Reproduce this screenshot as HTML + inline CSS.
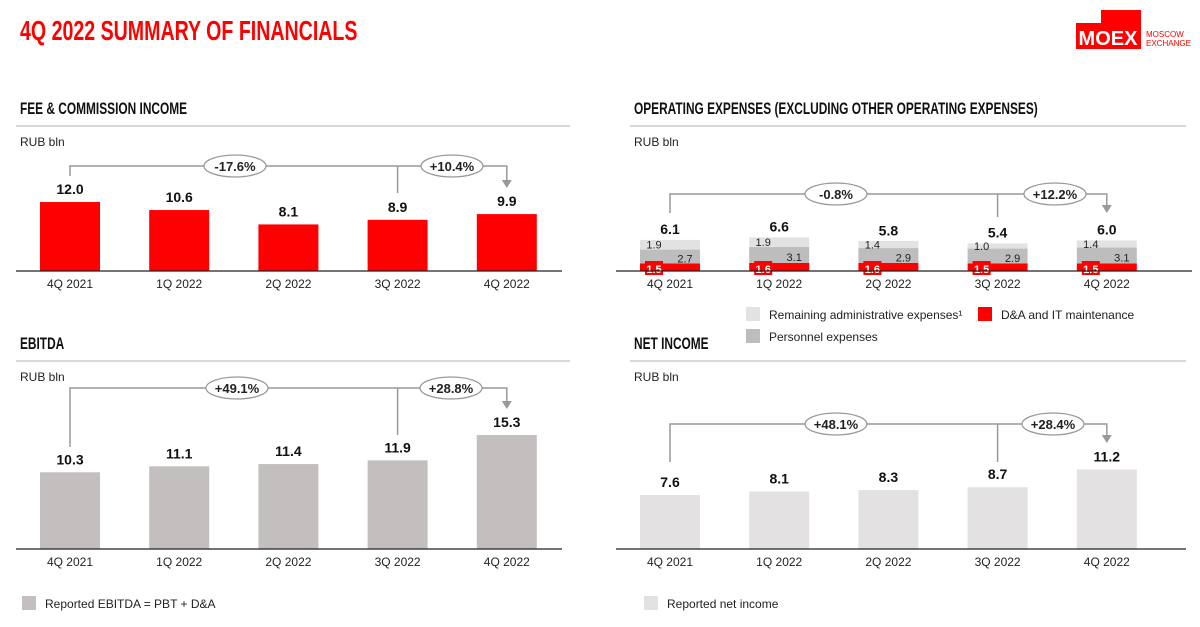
<!DOCTYPE html>
<html><head><meta charset="utf-8"><style>
body{margin:0;background:#fff;width:1200px;height:622px;overflow:hidden;font-family:"Liberation Sans",sans-serif}
svg text{font-family:"Liberation Sans",sans-serif}
</style></head><body>
<svg id="s" width="1200" height="622" xmlns="http://www.w3.org/2000/svg">
<text x="20" y="40" fill="#f00" font-size="28" font-weight="bold" transform="translate(20,0) scale(0.7,1) translate(-20,0)">4Q 2022 SUMMARY OF FINANCIALS</text>
<g>
<rect x="1101" y="10" width="40" height="14" fill="#f00"/>
<rect x="1076" y="23" width="65" height="26" fill="#f00"/>
<text x="1108" y="45" fill="#fff" font-size="20" font-weight="bold" text-anchor="middle">MOEX</text>
<text x="1146" y="37" fill="#f00" font-size="8">MOSCOW</text>
<text x="1146" y="46" fill="#f00" font-size="8">EXCHANGE</text>
</g>
</svg>
<script>
const categories=["4Q 2021","1Q 2022","2Q 2022","3Q 2022","4Q 2022"];
const feeValues=[12.0,10.6,8.1,8.9,9.9];
const ebitdaValues=[10.3,11.1,11.4,11.9,15.3];
const netValues=[7.6,8.1,8.3,8.7,11.2];
const opexTotal=[6.1,6.6,5.8,5.4,6.0];
const opexRemaining=[1.9,1.9,1.4,1.0,1.4];
const opexPersonnel=[2.7,3.1,2.9,2.9,3.1];
const opexDA=[1.5,1.6,1.6,1.5,1.5];
const feeChanges=["-17.6%","+10.4%"];
const opexChanges=["-0.8%","+12.2%"];
const ebitdaChanges=["+49.1%","+28.8%"];
const netChanges=["+48.1%","+28.4%"];

const NS="http://www.w3.org/2000/svg";
const svg=document.getElementById('s');
function mk(tag,attrs,parent){const e=document.createElementNS(NS,tag);for(const k in attrs)e.setAttribute(k,attrs[k]);(parent||svg).appendChild(e);return e;}
function txt(x,y,s,attrs,parent){const t=mk('text',Object.assign({x:x,y:y},attrs),parent);t.textContent=s;return t;}

function panel(name,title,x0,x1,ty){
  const g=mk('g',{});
  
  
  const t=txt(x0+4,ty,title,{'font-size':17,'font-weight':'bold',fill:'#111',transform:`translate(${x0+4},0) scale(0.7,1) translate(${-(x0+4)},0)`},g);
  
  
  mk('line',{x1:x0,x2:x1,y1:ty+12,y2:ty+12,stroke:'#ccc','stroke-width':1.5},g);
  const u=txt(x0+4,ty+32,'RUB bln',{'font-size':12,fill:'#222'},g);
  
  
  return g;
}
function xPos(c0,i){return c0+i*109.2;}
function axis(g,c0,base,ax0,ax1){
  mk('line',{x1:ax0,x2:ax1,y1:base,y2:base,stroke:'#222','stroke-width':1.3},g);
  categories.forEach((c,i)=>{const t=txt(xPos(c0,i),base+17,c,{'font-size':12,fill:'#222','text-anchor':'middle'},g);
    
    });
}
function bracket(g,c0,ly,yl,y3,ya,changes,ox){
  const a=xPos(c0,0),b=xPos(c0,3),c=xPos(c0,4);
  mk('path',{d:`M${a} ${yl}V${ly}H${c}V${ya-6}`,fill:'none',stroke:'#999','stroke-width':1.5},g);
  mk('path',{d:`M${b} ${ly}V${y3}`,fill:'none',stroke:'#999','stroke-width':1.5},g);
  mk('path',{d:`M${c-5} ${ya-8}L${c+5} ${ya-8}L${c} ${ya}Z`,fill:'#999'},g);
  changes.forEach((s,i)=>{
    const e=mk('ellipse',{cx:ox[i],cy:ly,rx:31,ry:11,fill:'#fff',stroke:'#999','stroke-width':1.3},g);
    
    
    txt(ox[i],ly+5,s,{'font-size':13,'font-weight':'bold',fill:'#222','text-anchor':'middle'},g);
  });
}
function simpleBars(g,vals,c0,base,scale,color){
  vals.forEach((v,i)=>{
    const h=v*scale,x=xPos(c0,i);
    const r=mk('rect',{x:x-30,y:base-h,width:60,height:h,fill:color},g);
    
    
    const t=txt(x,base-h-8,v.toFixed(1),{'font-size':14,'font-weight':'bold',fill:'#111','text-anchor':'middle'},g);
    
    
  });
}
function legend(g,x,y,color,label){
  const lg=mk('g',{},g);
  
  
  mk('rect',{x:x,y:y-7,width:14,height:14,fill:color},lg);
  txt(x+23,y+5,label,{'font-size':12,fill:'#222'},lg);
}

// Fee
let g=panel('fee-commission-chart','FEE & COMMISSION INCOME',16,570,114);
simpleBars(g,feeValues,70,271,5.75,'#f00');
axis(g,70,271,16,562);
bracket(g,70,166,176,193,188,feeChanges,[235,452]);

// EBITDA
g=panel('ebitda-chart','EBITDA',16,570,349);
simpleBars(g,ebitdaValues,70,549,7.45,'#c4bfbf');
axis(g,70,549,16,562);
bracket(g,70,388,447,435,409,ebitdaChanges,[237,451]);
legend(g,22,603,'#c4bfbf','Reported EBITDA = PBT + D&A');

// Net income
g=panel('net-income-chart','NET INCOME',630,1186,349);
simpleBars(g,netValues,670,549,7.1,'#e3e1e1');
axis(g,670,549,616,1186);
bracket(g,670,424,462,462,443,netChanges,[836,1053]);
legend(g,644,603,'#e3e1e1','Reported net income');

// Opex
g=panel('operating-expenses-chart','OPERATING EXPENSES (EXCLUDING OTHER OPERATING EXPENSES)',630,1186,114);
const oc=670,ob=271,os=5.1;
categories.forEach((c,i)=>{
  const x=xPos(oc,i);
  const hd=opexDA[i]*os,hp=opexPersonnel[i]*os,hr=opexRemaining[i]*os;
  const r1=mk('rect',{x:x-30,y:ob-hd,width:60,height:hd,fill:'#f00'},g);
  
  
  const r2=mk('rect',{x:x-30,y:ob-hd-hp,width:60,height:hp,fill:'#bdbdbd'},g);
  
  
  const r3=mk('rect',{x:x-30,y:ob-hd-hp-hr,width:60,height:hr,fill:'#e2e2e2'},g);
  
  
  const top=ob-opexTotal[i]*os;
  txt(x,top-6,opexTotal[i].toFixed(1),{'font-size':14,'font-weight':'bold',fill:'#111','text-anchor':'middle'},g);
  mk('rect',{x:x-25,y:ob-10,width:18,height:14,fill:'#f00'},g);
  txt(x-16,ob+2,opexDA[i].toFixed(1),{'font-size':11,'font-weight':'bold',fill:'#fff','text-anchor':'middle'},g);
  txt(x+15,ob-hd-hp/2+6,opexPersonnel[i].toFixed(1),{'font-size':11,fill:'#222','text-anchor':'middle'},g);
  txt(x-16,ob-hd-hp-hr/2+4,opexRemaining[i].toFixed(1),{'font-size':11,fill:'#222','text-anchor':'middle'},g);
});
axis(g,oc,ob,616,1192);
bracket(g,oc,194,213,217,213,opexChanges,[836,1055]);
legend(g,746,314,'#e2e2e2','Remaining administrative expenses\u00b9');
legend(g,746,336,'#bdbdbd','Personnel expenses');
legend(g,978,314,'#f00','D&A and IT maintenance');
</script>
</body></html>
